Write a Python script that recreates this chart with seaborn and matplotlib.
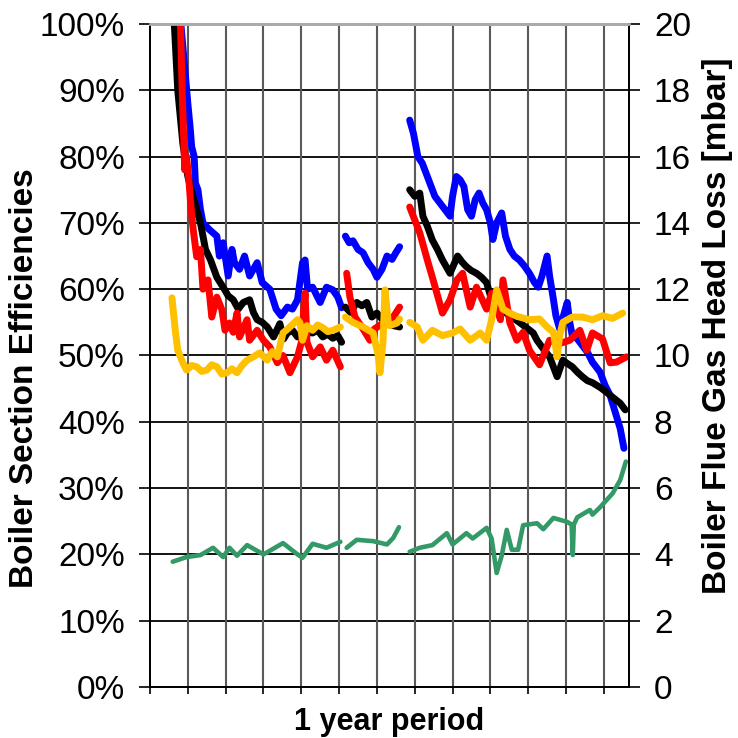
import numpy as np
import pandas as pd
import seaborn as sns
import matplotlib
matplotlib.use("Agg")
import matplotlib.pyplot as plt
from matplotlib.ticker import FuncFormatter

nan = np.nan

# ---- data (x in days of a one-year period; NaN separates data gaps) ----
blue_day = [24, 30, 32, 33, 35, 36, 38, 40, 42, 47, 53, 55, 58, 62, 65, 67, 71, 75, 79, 85, 89, 95,
            100, 104, 109, 113, 117, 121, 123, 125, 129, 135, 140, 145, 149, 152, nan,
            155, 158, 161, 165, 169, 173, 177, 180, 184, 188, 192, 195, 198, nan,
            206, 209, 212.5, 216, 219, 222, 226, 230, 234, 238, 240, 243, 246, 249, 252, 255, 258, 261,
            264, 267, 270, 272, 275, 279, 282, 285.5, 289, 293, 297, 301, 305, 308, 311, 315, 317, 320,
            322, 325, 328, 331, 333, 335, 339, 343, 347, 351, 357, 361, 365, 369, 373, 376]
blue_eff = [101, 88, 84, 81.5, 80, 76, 75, 72, 70, 69, 68, 65, 67, 62, 66, 64, 63, 65, 62, 64, 61, 60,
            57, 56, 57.3, 57, 58.4, 64, 64.4, 60, 60.3, 58, 60.3, 59.9, 58.8, 57.2, nan,
            68, 67, 67.3, 66, 65.5, 64, 63, 61.8, 63, 65, 64.5, 65.5, 66.4, nan,
            85.5, 83.5, 80, 79, 77.5, 76, 74, 73, 72, 71, 74, 77, 76.5, 75.5, 72, 71, 73.5, 74.5,
            73, 72, 70, 67.5, 70, 71.5, 68, 66, 65, 64.4, 63.5, 62.4, 61, 60.3, 62, 65, 62, 58.5,
            56, 54, 56, 58, 55, 53, 52.5, 51.5, 50.5, 49, 47.5, 45.5, 44, 41.5, 39, 36]

black_day = [19, 22, 26, 30, 34, 37, 40, 44, 48, 53, 58, 62, 66, 70, 74, 79, 82, 85, 89, 93, 98, 103,
             106, 109, 113, 117, 123, 129, 133, 137, 141, 145, 149, 152, nan,
             155, 159, 164, 168, 172, 176, 180, 184, 188, 193, 198, nan,
             206, 210, 214, 216.5, 220, 224, 228, 232, 238, 244, 248, 251, 255, 259, 263, 267, 271, 278,
             285.5, 293, 300, 304, 307, 312, 317, 323, 327.5, 331, 335, 339, 343, 347, 351, 357, 362,
             367, 373, 377]
black_eff = [101, 90, 82, 77, 74, 72, 70, 66, 64.4, 61.8, 60.3, 59, 58.4, 57, 58, 58.4, 56.5, 55.4, 55,
             54.3, 52.8, 54.8, 52.5, 53.4, 53.8, 52.8, 53.5, 53.4, 53.8, 52.8, 53.2, 52.6, 53, 52, nan,
             57.3, 56.5, 58, 57.5, 58, 55.8, 56.4, 55.5, 55, 54.5, 54.3, nan,
             75, 74, 74.5, 71, 69.5, 67.4, 66, 64.4, 62.4, 65, 64, 63.4, 62.8, 62.4, 61.8, 61, 58.4, 57,
             56, 55, 54, 53.4, 52.3, 51, 49.8, 46.8, 49.3, 48.8, 48.3, 47.5, 46.8, 46.2, 45.9, 45.2, 44.5,
             43.7, 42.8, 41.8]

red_day = [24, 25.5, 26.5, 27.5, 29, 31, 32, 34, 37, 40, 42, 46, 49, 53, 57, 59.5, 63, 66, 69, 71, 77,
           79, 85, 90, 95, 101, 105.5, 111, 117, 120.5, 122, 123, 124.5, 129, 135, 140, 145, 151, nan,
           156, 158.6, 162.6, 168, 174.5, 178, 185, 193, 198, nan,
           206, 214, 220, 224, 232, 238, 243.5, 248, 254, 259, 267, 271, 278, 280, 285.5, 291, 296, 301,
           309, 317, 325, 333, 341, 346.5, 351, 359, 365, 370, 378]
red_eff = [101, 90, 84, 78, 80, 76, 73.5, 69.4, 64.9, 66, 60, 61.4, 55.8, 58.8, 56.9, 53.8, 54.9, 53.5,
           56.4, 52.8, 55.4, 52.3, 53.8, 52.3, 51.3, 48.9, 50, 47.4, 49.8, 52.3, 57, 59.4, 52, 49.8, 51.3,
           49.3, 50.8, 48.3, nan,
           62.4, 58.8, 55.8, 54.3, 52.3, 54, 54.9, 55.8, 57.3, nan,
           72.4, 68.5, 64.4, 61.8, 56.4, 58.4, 61.4, 62.4, 57.3, 60.3, 57, 59.4, 55.4, 61.4, 54.9, 52.3,
           53.5, 50.8, 48.6, 52.3, 51.8, 52.3, 53.8, 50.8, 53.4, 52.5, 48.9, 49, 49.8]

yellow_day = [17.4, 20, 22, 26, 29, 33, 37, 41, 45, 49, 53, 57, 61, 65, 69, 73, 77, 82, 87, 93, 97, 101,
              105.5, 111, 117, 119, 121, 124.5, 129, 133, 137, 141, 145, 151, nan,
              155, 161, 169, 177, 181, 182.4, 184.8, 186.4, 189, 190, 196, 198, nan,
              206, 212, 216.5, 224, 232, 240, 246, 254, 262, 267, 271, 275, 280, 285.5, 291, 301, 309,
              315, 320, 323, 325, 327.5, 335, 343, 351, 359, 367, 375]
yellow_eff = [58.7, 53.8, 50.8, 48.9, 47.8, 48.5, 48.3, 47.6, 47.8, 48.6, 48.3, 47.2, 47.4, 48, 47.4,
              48.5, 49.3, 49.8, 50.4, 49.3, 50.6, 49.8, 53.4, 54.3, 55.4, 54.9, 52.3, 54.5, 53.8, 54.6,
              54.2, 53.6, 53.8, 54.3, nan,
              55.8, 55, 54.3, 53.4, 50, 47.4, 52, 59.9, 55, 54.5, 54.9, 55.5, nan,
              55, 54.3, 52.3, 53.8, 53, 53.4, 54, 52.3, 53.4, 52.3, 55.4, 59.9, 57, 56.4, 55.9, 55.4,
              55.5, 54.3, 53.5, 49.8, 53, 55, 55.8, 55.8, 55.4, 56, 55.6, 56.4]

green_day = [18, 29, 40, 50, 58, 63, 69, 77, 90, 105.5, 117, 121, 129, 140, 151, nan,
             156, 164, 177, 188, 193, 197.5, nan,
             206, 214, 224, 235.5, 240, 251, 256, 267, 271, 275, 279, 283, 287, 292, 296, 307, 312, 320,
             331, 334.5, 335.4, 336.2, 339, 349, 351, 357, 367, 373, 377.5]
green_mbar = [3.78, 3.92, 3.98, 4.2, 3.92, 4.2, 3.96, 4.28, 4.0, 4.34, 4.0, 3.9, 4.32, 4.2, 4.38, nan,
              4.2, 4.44, 4.4, 4.3, 4.5, 4.82, nan,
              4.08, 4.2, 4.28, 4.64, 4.3, 4.64, 4.48, 4.8, 4.48, 3.44, 3.96, 4.74, 4.14, 4.14, 4.88, 4.94,
              4.76, 5.1, 4.98, 4.9, 3.98, 4.9, 5.12, 5.34, 5.2, 5.42, 5.84, 6.24, 6.8]

left_ticks = list(range(0, 101, 10))
right_ticks = list(range(0, 21, 2))
x_grid_days = list(range(0, 361, 30))


def frame(days, vals):
    d = pd.DataFrame({"day": days, "val": vals})
    d["seg"] = d["val"].isna().cumsum()
    return d.dropna()


sns.set_style("white")
plt.rcParams["font.family"] = ["Liberation Sans", "DejaVu Sans"]
for k in ("text.color", "axes.labelcolor", "xtick.color", "ytick.color"):
    plt.rcParams[k] = "black"

fig = plt.figure(figsize=(7.38, 7.38), dpi=100)
ax = fig.add_axes([0.2033, 0.0691, 0.8523 - 0.2033, 0.9675 - 0.0691])
ax2 = ax.twinx()

lw = 5.0
for days, vals, col in [(blue_day, blue_eff, "#0000FF"),
                        (black_day, black_eff, "#000000"),
                        (red_day, red_eff, "#FF0000"),
                        (yellow_day, yellow_eff, "#FFC000")]:
    sns.lineplot(data=frame(days, vals), x="day", y="val", units="seg", estimator=None,
                 color=col, lw=lw, ax=ax, legend=False, zorder=3)

sns.lineplot(data=frame(green_day, green_mbar), x="day", y="val", units="seg", estimator=None,
             color="#339966", lw=3.3, ax=ax2, legend=False, zorder=3)

ax.set_xlim(0, 380)
ax.set_ylim(0, 100)
ax2.set_ylim(0, 20)

ax.set_yticks(left_ticks)
ax.yaxis.set_major_formatter(FuncFormatter(lambda v, p: f"{v:.0f}%"))
ax2.set_yticks(right_ticks)
ax.set_xticks(x_grid_days)
ax.set_xticklabels([])

# grid
for v in left_ticks[1:]:
    ax.axhline(v, color="black", lw=1.3, zorder=1)
for d in x_grid_days[1:]:
    ax.axvline(d, color="#5a5a5a", lw=1.5, zorder=1)

ax.tick_params(axis="y", direction="out", length=8, width=1.2, labelsize=24, pad=10, left=True)
ax.tick_params(axis="x", direction="out", length=5, width=1.2, bottom=True)
ax2.tick_params(axis="y", direction="out", length=8, width=1.2, labelsize=24, pad=10, right=True)

for a in (ax, ax2):
    for s in ("left", "bottom", "right"):
        a.spines[s].set_color("black")
        a.spines[s].set_linewidth(1.3)
    a.spines["top"].set_color("#aaaaaa")
    a.spines["top"].set_linewidth(2)

ax.set_xlabel("1 year period", fontsize=22, fontweight="bold")
ax.set_ylabel("Boiler Section Efficiencies", fontsize=24, fontweight="bold")
ax2.set_ylabel("Boiler Flue Gas Head Loss [mbar]", fontsize=24, fontweight="bold")
ax.xaxis.set_label_coords(0.5, -0.03)
ax.yaxis.set_label_coords(-0.2296, 0.466)
ax2.yaxis.set_label_coords(1.153, 0.545)

fig.savefig("out.png", dpi=100)
